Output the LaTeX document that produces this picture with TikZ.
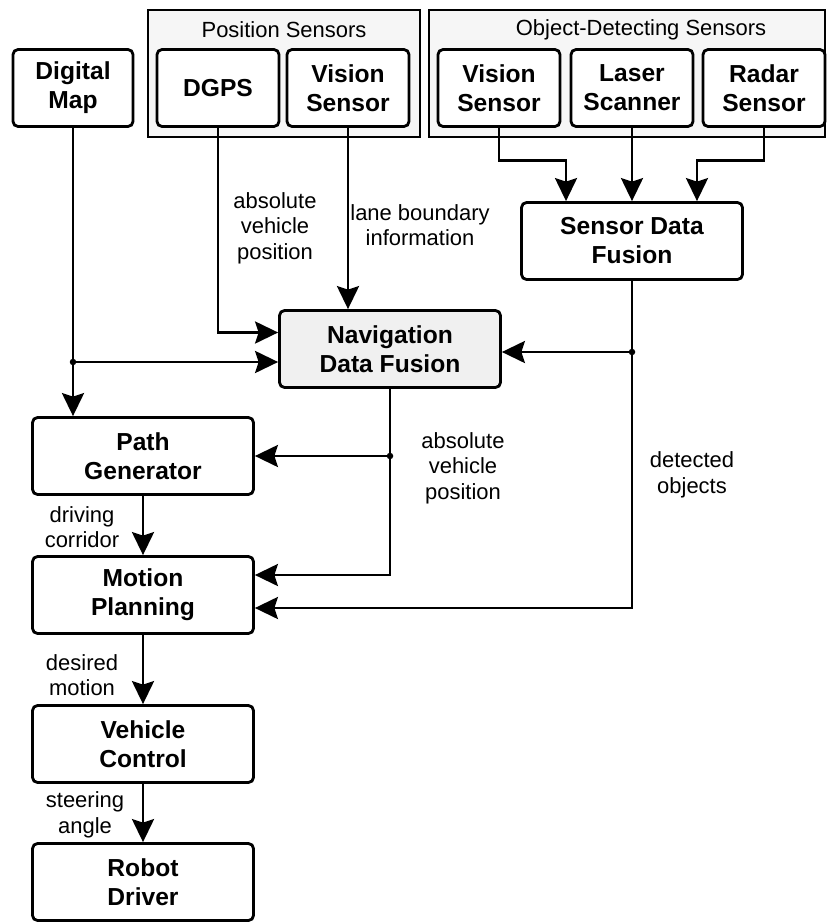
\documentclass[tikz,border=0pt]{standalone}
\usepackage{fontspec}
\setmainfont{Liberation Sans}
\usetikzlibrary{arrows.meta}
\tikzstyle{block}=[draw,rounded corners=0.1cm,fill=white,line width=1.6pt,align=center,inner sep=0pt,font=\fontsize{14}{16.5}\selectfont\bfseries]
\tikzstyle{small}=[block,minimum width=2.44cm,minimum height=1.54cm]
\tikzstyle{wide}=[block,minimum width=4.42cm,minimum height=1.54cm]
\tikzstyle{group}=[draw,fill=gray!7,line width=1.3pt]
\tikzstyle{title}=[font=\fontsize{12.5}{14.5}\selectfont]
\tikzstyle{lbl}=[align=center,font=\fontsize{12.5}{14.5}\selectfont]
\tikzstyle{arr}=[-{Stealth[length=0.46cm,width=0.44cm,inset=0.07cm]},line width=1.6pt]
\tikzstyle{junc}=[circle,fill,inner sep=0pt,minimum size=0.13cm]

\begin{document}
\begin{tikzpicture}[x=0.02cm,y=-0.02cm]
    \useasboundingbox (0,0) rectangle (827,923);
    % sensor groups
    \draw[group] (148,10) rectangle (420,137);
    \draw[group] (429,10) rectangle (825,137);
    \node[title] (tpos) at (284,30) {Position Sensors};
    \node[title] (tobj) at (641,30) {Object-Detecting Sensors};

    \node[small,minimum width=2.4cm] (digmap) at (73,88) {Digital\\Map};
    \node[small] (dgps)   at (218,88) {DGPS};
    \node[small] (vispos) at (348,88) {Vision\\Sensor};
    \node[small] (visobj) at (499,88) {Vision\\Sensor};
    \node[small] (laser)  at (632,88) {Laser\\Scanner};
    \node[small] (radar)  at (764,88) {Radar\\Sensor};

    \node[wide] (sdf) at (632,241) {Sensor Data\\Fusion};
    \node[wide,fill=gray!12] (ndf) at (390,349) {Navigation\\Data Fusion};
    \node[wide] (pathgen) at (143,456) {Path\\Generator};
    \node[wide] (motion)  at (143,595) {Motion\\Planning};
    \node[wide] (vehctl)  at (143,744) {Vehicle\\Control};
    \node[wide] (robot)   at (143,882) {Robot\\Driver};

    % junctions
    \node[junc] (j1) at (73,362) {};
    \node[junc] (j2) at (632,352) {};
    \node[junc] (j3) at (390,456) {};

    % sensor data fusion inputs
    \draw[arr] (visobj.south) -- ++(0,33) -| ([xshift=-1.32cm]sdf.north);
    \draw[arr] (laser.south) -- (sdf.north);
    \draw[arr] (radar.south) -- ++(0,33) -| ([xshift=1.3cm]sdf.north);

    % navigation data fusion inputs
    \draw[arr] (dgps.south) |- ([yshift=0.33cm]ndf.west);
    \draw[arr] (vispos.south) -- (vispos.south |- ndf.north);
    \draw[arr] (digmap.south) -- (digmap.south |- pathgen.north);
    \draw[arr] (j1.center) -- (j1 -| ndf.west);
    \draw[arr] (sdf.south) |- ([yshift=-0.26cm]motion.east);
    \draw[arr] (j2.center) -- (j2 -| ndf.east);

    % outputs
    \draw[arr] (ndf.south) |- ([yshift=0.4cm]motion.east);
    \draw[arr] (j3.center) -- (pathgen.east);
    \draw[arr] (pathgen) -- (motion);
    \draw[arr] (motion) -- (vehctl);
    \draw[arr] (vehctl) -- (robot);

    % labels
    \node[lbl] (l1) at (275,228) {absolute\\vehicle\\position};
    \node[lbl] (l2) at (420,225) {lane boundary\\information};
    \node[lbl] (l3) at (463,468) {absolute\\vehicle\\position};
    \node[lbl] (l4) at (692,475) {detected\\objects};
    \node[lbl] (l5) at (82,527) {driving\\corridor};
    \node[lbl] (l6) at (82,675) {desired\\motion};
    \node[lbl] (l7) at (85,815) {steering\\angle};
\end{tikzpicture}
\end{document}
